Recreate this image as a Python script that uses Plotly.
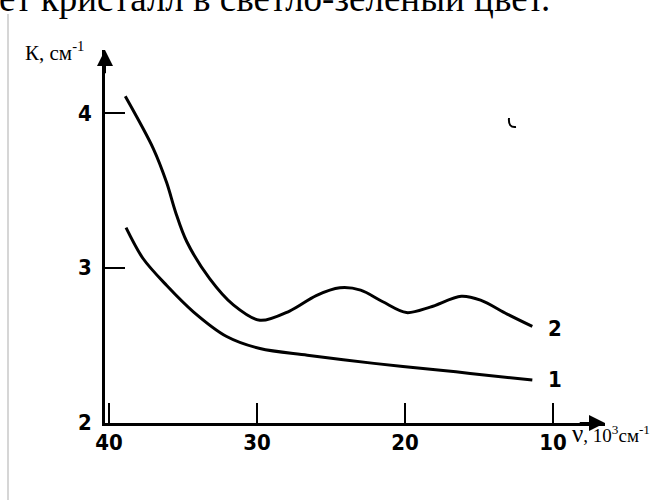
import plotly.graph_objects as go

# Data (ν in 10^3 cm^-1, K in cm^-1)
nu_2 = [38.9, 37.0, 36.1, 35.5, 34.75, 33.2, 31.6, 29.8, 27.8, 26.0, 24.4, 23.0,
        21.5, 19.9, 18.3, 16.2, 14.9, 13.1, 11.4]
k_2 = [4.11, 3.77, 3.55, 3.36, 3.17, 2.93, 2.76, 2.66, 2.72, 2.82, 2.87, 2.855,
       2.78, 2.71, 2.745, 2.815, 2.79, 2.70, 2.62]

nu_1 = [38.85, 37.7, 36.1, 34.3, 32.05, 29.8, 26.6, 22.1, 17.6, 15.6, 11.4]
k_1 = [3.26, 3.06, 2.885, 2.715, 2.555, 2.477, 2.434, 2.381, 2.337, 2.316, 2.273]

x_ticks = [40, 30, 20, 10]
x_tick_text = ["40", "30", "20", "10"]
y_ticks = [2, 3, 4]
curve_labels = ["2", "1"]

X_RANGE = [40.27, 6.49]
Y_RANGE = [1.995, 4.41]

tick_font = dict(family="DejaVu Sans Condensed, Liberation Sans Narrow, Arial Narrow, sans-serif",
                 size=22, color="black")
serif = "Liberation Serif, Times New Roman, serif"

# plot area in pixels (for page decorations only)
L, T, W, H = 105, 50, 500, 373


def px(x):
    return (x - L) / W


def py(y):
    return (T + H - y) / H


fig = go.Figure()
fig.add_trace(go.Scatter(x=nu_2, y=k_2, mode="lines",
                         line=dict(color="black", width=3, shape="spline", smoothing=0.9),
                         hoverinfo="skip", showlegend=False))
fig.add_trace(go.Scatter(x=nu_1, y=k_1, mode="lines",
                         line=dict(color="black", width=3, shape="spline", smoothing=0.9),
                         hoverinfo="skip", showlegend=False))

annotations = [
    # curve labels
    dict(x=nu_2[-1], y=k_2[-1], xref="x", yref="y", text="<b>" + curve_labels[0] + "</b>",
         showarrow=False, xanchor="left", xshift=14, yshift=-2, font=tick_font),
    dict(x=nu_1[-1], y=k_1[-1], xref="x", yref="y", text="<b>" + curve_labels[1] + "</b>",
         showarrow=False, xanchor="left", xshift=14, yshift=1, font=tick_font),
    # axis titles
    dict(x=px(23), y=py(67), xref="paper", yref="paper", text="К, см<sup>-1</sup>",
         showarrow=False, xanchor="left", yanchor="bottom",
         font=dict(family=serif, size=21, color="black")),
    dict(x=px(570), y=py(449), xref="paper", yref="paper",
         text="<span style='font-size:25px'>ν</span>, 10<sup>3</sup>см<sup>-1</sup>",
         showarrow=False, xanchor="left", yanchor="bottom",
         font=dict(family=serif, size=19, color="black")),
    # page text cut at top
    dict(x=px(-3), y=py(21), xref="paper", yref="paper",
         text="ет кристалл в светло-зеленый цвет.",
         showarrow=False, xanchor="left", yanchor="bottom",
         font=dict(family=serif, size=37, color="black")),
    # arrow heads
    dict(x=X_RANGE[1], y=Y_RANGE[0], xref="x", yref="y", ax=8.3, ay=Y_RANGE[0],
         axref="x", ayref="y", text="", showarrow=True, arrowhead=2, arrowsize=1.6,
         arrowwidth=2, arrowcolor="black", standoff=0),
    dict(x=X_RANGE[0], y=Y_RANGE[1], xref="x", yref="y", ax=X_RANGE[0], ay=4.25,
         axref="x", ayref="y", text="", showarrow=True, arrowhead=2, arrowsize=1.6,
         arrowwidth=2, arrowcolor="black", standoff=0),
]

shapes = [
    # page margin line
    dict(type="line", xref="paper", yref="paper", x0=px(8), x1=px(8), y0=py(505), y1=py(14),
         line=dict(color="#c8c8c8", width=1.5)),
    # small scan mark
    dict(type="path", xref="paper", yref="paper",
         path="M %f %f Q %f %f %f %f" % (px(509), py(118), px(508), py(128), px(516), py(127)),
         line=dict(color="black", width=2)),
]

fig.update_layout(
    width=664, height=500,
    margin=dict(l=L, r=664 - L - W, t=T, b=500 - T - H),
    paper_bgcolor="white", plot_bgcolor="white",
    annotations=annotations, shapes=shapes,
    xaxis=dict(range=X_RANGE, tickvals=x_ticks,
               ticktext=["<b>%s</b>" % t for t in x_tick_text],
               ticks="inside", ticklen=20, tickwidth=1.5, tickcolor="black",
               showline=True, linewidth=2.5, linecolor="black", showgrid=False,
               zeroline=False, tickfont=tick_font, ticklabelstandoff=-2),
    yaxis=dict(range=Y_RANGE, tickvals=y_ticks, ticktext=["<b>%d</b>" % v for v in y_ticks],
               ticks="inside", ticklen=20, tickwidth=1.5, tickcolor="black",
               showline=True, linewidth=2.5, linecolor="black", showgrid=False,
               zeroline=False, tickfont=tick_font, ticklabelstandoff=6),
)

fig.write_html("out.html")
